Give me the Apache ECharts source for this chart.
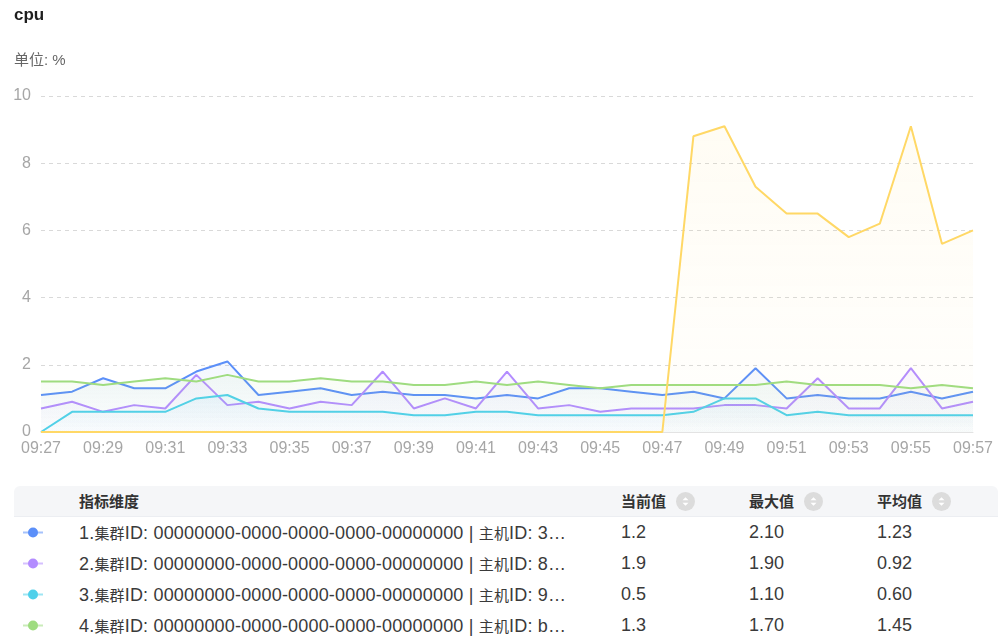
<!DOCTYPE html>
<html>
<head>
<meta charset="utf-8">
<script src="https://cdn.jsdelivr.net/npm/echarts@6/dist/echarts.min.js"></script>
<style>
  html, body { margin: 0; padding: 0; background: #fff; }
  body { width: 1005px; height: 637px; position: relative; overflow: hidden;
         font-family: "Liberation Sans", Arial, "Noto Sans CJK SC", sans-serif; }
  #title { position: absolute; left: 14px; top: 5px; font-size: 17px; font-weight: bold; color: #1f1f1f; }
  #unit { position: absolute; left: 14px; top: 48px; font-size: 15px; color: #666; }
  #chart { position: absolute; left: 0; top: 0; width: 1005px; height: 470px; }
  #table { position: absolute; left: 14px; top: 486px; width: 984px; }
  .hdr { height: 30px; background: #f5f6f8; border-radius: 6px 6px 0 0; position: relative;
         border-bottom: 1px solid #eceef2; }
  .hdr span { position: absolute; top: 0; line-height: 30px; font-size: 15px; font-weight: bold; color: #333;
              font-family: "Noto Sans CJK SC", sans-serif; }
  .hdr svg { vertical-align: middle; margin-left: 10px; margin-top: -3px; }
  .row { height: 31px; position: relative; }
  .row > span { position: absolute; top: 0; line-height: 31px; font-size: 18px; color: #3a3a3a; white-space: nowrap; }
  .row > span.name { letter-spacing: 0.18px; }
  .cjk { font-size: 15px; font-family: "Noto Sans CJK SC", sans-serif; }
  .mk { position: absolute; left: 9px; top: 10px; width: 20px; height: 11px; }
</style>
</head>
<body>
<div id="chart"></div>
<div id="title">cpu</div>
<div id="unit">单位: %</div>
<div id="table"></div>
<script>
// time axis (one point per minute)
const times = ['09:27','09:28','09:29','09:30','09:31','09:32','09:33','09:34','09:35','09:36',
               '09:37','09:38','09:39','09:40','09:41','09:42','09:43','09:44','09:45','09:46',
               '09:47','09:48','09:49','09:50','09:51','09:52','09:53','09:54','09:55','09:56','09:57'];

// cpu usage per host (%)
const host1 = [1.1,1.2,1.6,1.3,1.3,1.8,2.1,1.1,1.2,1.3,1.1,1.2,1.1,1.1,1.0,1.1,1.0,1.3,1.3,1.2,
               1.1,1.2,1.0,1.9,1.0,1.1,1.0,1.0,1.2,1.0,1.2];
const host2 = [0.7,0.9,0.6,0.8,0.7,1.7,0.8,0.9,0.7,0.9,0.8,1.8,0.7,1.0,0.7,1.8,0.7,0.8,0.6,0.7,
               0.7,0.7,0.8,0.8,0.7,1.6,0.7,0.7,1.9,0.7,0.9];
const host3 = [0,0.6,0.6,0.6,0.6,1.0,1.1,0.7,0.6,0.6,0.6,0.6,0.5,0.5,0.6,0.6,0.5,0.5,0.5,0.5,
               0.5,0.6,1.0,1.0,0.5,0.6,0.5,0.5,0.5,0.5,0.5];
const host4 = [1.5,1.5,1.4,1.5,1.6,1.5,1.7,1.5,1.5,1.6,1.5,1.5,1.4,1.4,1.5,1.4,1.5,1.4,1.3,1.4,
               1.4,1.4,1.4,1.4,1.5,1.4,1.4,1.4,1.3,1.4,1.3];
const host5 = [0,0,0,0,0,0,0,0,0,0,0,0,0,0,0,0,0,0,0,0,
               0,8.8,9.1,7.3,6.5,6.5,5.8,6.2,9.1,5.6,6.0];

// y axis ticks
const yTicks = [0, 2, 4, 6, 8, 10];

// summary table rows
const rowNames = [
  '1.集群ID: 00000000-0000-0000-0000-00000000 | 主机ID: 3…',
  '2.集群ID: 00000000-0000-0000-0000-00000000 | 主机ID: 8…',
  '3.集群ID: 00000000-0000-0000-0000-00000000 | 主机ID: 9…',
  '4.集群ID: 00000000-0000-0000-0000-00000000 | 主机ID: b…'
];
const currentVals = ['1.2', '1.9', '0.5', '1.3'];
const maxVals = ['2.10', '1.90', '1.10', '1.70'];
const avgVals = ['1.23', '0.92', '0.60', '1.45'];
const headers = ['指标维度', '当前值', '最大值', '平均值'];

const colors = ['#5b8ff9', '#b38cff', '#4fd0ea', '#9fdc80', '#ffd866'];
const seriesData = [host1, host2, host3, host4, host5];

function rgba(hex, a) {
  const n = parseInt(hex.slice(1), 16);
  return 'rgba(' + (n >> 16) + ',' + ((n >> 8) & 255) + ',' + (n & 255) + ',' + a + ')';
}

const axisFont = 'Liberation Sans, Arial, sans-serif';
const chart = echarts.init(document.getElementById('chart'), null, { renderer: 'canvas' });
chart.setOption({
  animation: false,
  grid: { left: 41, right: 32, top: 96, bottom: 38, containLabel: false },
  xAxis: {
    type: 'category',
    data: times,
    boundaryGap: false,
    axisLine: { lineStyle: { color: '#e3e3e3' } },
    axisTick: { show: false },
    axisLabel: { interval: 1, color: '#a6a6a6', fontSize: 16, margin: 9, fontFamily: axisFont }
  },
  yAxis: {
    type: 'value',
    min: yTicks[0],
    max: yTicks[yTicks.length - 1],
    interval: 2,
    axisLine: { show: false },
    axisTick: { show: false },
    axisLabel: { color: '#a6a6a6', fontSize: 16, margin: 10, fontFamily: axisFont },
    splitLine: { lineStyle: { type: [4, 4], color: '#d9d9d9' } }
  },
  series: seriesData.map((d, i) => ({
    type: 'line',
    data: d,
    showSymbol: false,
    symbol: 'none',
    lineStyle: { width: 2, color: colors[i] },
    itemStyle: { color: colors[i] },
    areaStyle: {
      color: new echarts.graphic.LinearGradient(0, 0, 0, 1, [
        { offset: 0, color: rgba(colors[i], 0.1) },
        { offset: 1, color: rgba(colors[i], 0.02) }
      ])
    },
    z: 2 + i
  }))
});

// summary table
function cjkWrap(s) {
  return s.replace(/[\u4e00-\u9fff]+/g, m => '<span class="cjk">' + m + '</span>');
}
const sortIcon = '<svg width="19" height="19" viewBox="0 0 19 19"><circle cx="9.5" cy="9.5" r="9.5" fill="#dcdcdc"/>' +
  '<path d="M6.5 8.3 L9.5 5.3 L12.5 8.3 Z M6.5 10.7 L9.5 13.7 L12.5 10.7 Z" fill="#fff"/></svg>';
const cols = [65, 607, 735, 863];
const table = document.getElementById('table');
let html = '<div class="hdr">';
headers.forEach((h, i) => {
  html += '<span style="left:' + cols[i] + 'px">' + h + (i > 0 ? sortIcon : '') + '</span>';
});
html += '</div>';
rowNames.forEach((name, r) => {
  const c = colors[r];
  html += '<div class="row">' +
    '<svg class="mk" viewBox="0 0 20 11"><line x1="0" y1="5.5" x2="20" y2="5.5" stroke="' + rgba(c, 0.55) +
    '" stroke-width="2"/><circle cx="10" cy="5.5" r="5" fill="' + c + '"/></svg>' +
    '<span class="name" style="left:' + cols[0] + 'px">' + cjkWrap(name) + '</span>' +
    '<span style="left:' + cols[1] + 'px">' + currentVals[r] + '</span>' +
    '<span style="left:' + cols[2] + 'px">' + maxVals[r] + '</span>' +
    '<span style="left:' + cols[3] + 'px">' + avgVals[r] + '</span>' +
    '</div>';
});
table.innerHTML = html;
</script>
</body>
</html>
